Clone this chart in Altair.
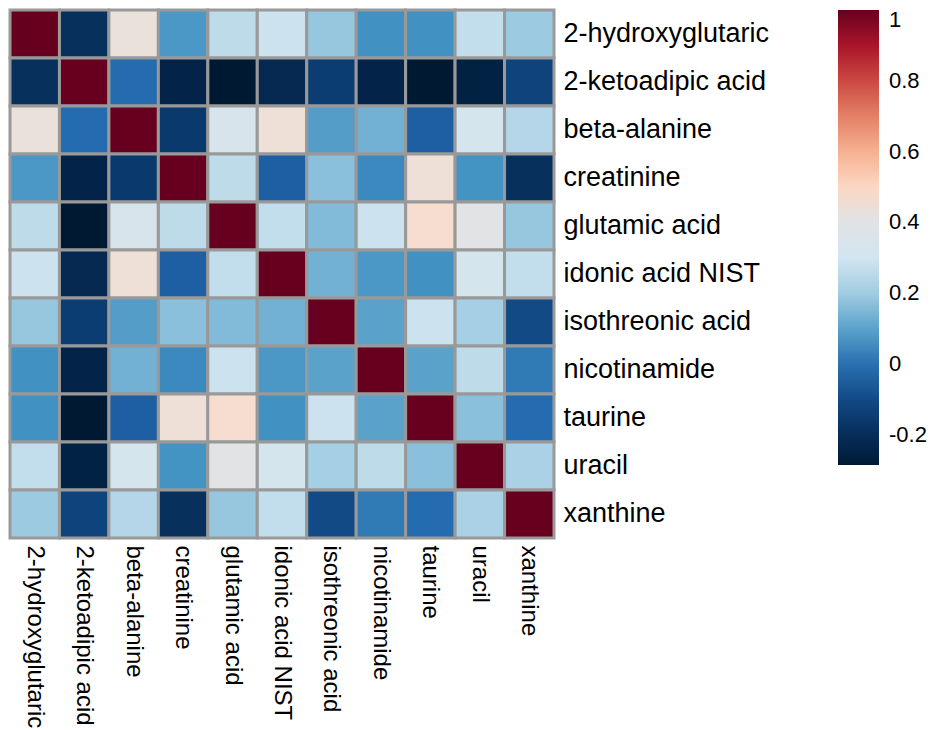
import altair as alt
import pandas as pd

metabolites = [
    "2-hydroxyglutaric", "2-ketoadipic acid", "beta-alanine", "creatinine",
    "glutamic acid", "idonic acid NIST", "isothreonic acid", "nicotinamide",
    "taurine", "uracil", "xanthine",
]

# correlation rows, top to bottom; columns left to right (same order)
r_hydroxyglutaric = [1.00, -0.19, 0.44, 0.08, 0.26, 0.29, 0.18, 0.065, 0.065, 0.27, 0.19]
r_ketoadipic      = [-0.19, 1.00, -0.01, -0.24, -0.29, -0.22, -0.14, -0.24, -0.29, -0.25, -0.12]
r_betaalanine     = [0.44, -0.01, 1.00, -0.15, 0.34, 0.45, 0.09, 0.13, -0.04, 0.32, 0.24]
r_creatinine      = [0.08, -0.24, -0.15, 1.00, 0.26, -0.04, 0.16, 0.05, 0.45, 0.07, -0.19]
r_glutamic        = [0.26, -0.29, 0.34, 0.26, 1.00, 0.27, 0.15, 0.29, 0.47, 0.41, 0.18]
r_idonic          = [0.29, -0.22, 0.45, -0.04, 0.27, 1.00, 0.13, 0.08, 0.065, 0.32, 0.27]
r_isothreonic     = [0.18, -0.14, 0.09, 0.16, 0.15, 0.13, 1.00, 0.10, 0.29, 0.21, -0.10]
r_nicotinamide    = [0.065, -0.24, 0.13, 0.05, 0.29, 0.08, 0.10, 1.00, 0.10, 0.26, 0.02]
r_taurine         = [0.065, -0.29, -0.04, 0.45, 0.47, 0.065, 0.29, 0.10, 1.00, 0.16, -0.01]
r_uracil          = [0.27, -0.25, 0.32, 0.07, 0.41, 0.32, 0.21, 0.26, 0.16, 1.00, 0.22]
r_xanthine        = [0.19, -0.12, 0.24, -0.19, 0.18, 0.27, -0.10, 0.02, -0.01, 0.22, 1.00]

rows = [r_hydroxyglutaric, r_ketoadipic, r_betaalanine, r_creatinine, r_glutamic,
        r_idonic, r_isothreonic, r_nicotinamide, r_taurine, r_uracil, r_xanthine]

legend_ticks = [-0.2, 0, 0.2, 0.4, 0.6, 0.8, 1]

stop_values = [-0.285, -0.145, -0.02, 0.07, 0.17, 0.30, 0.42, 0.49, 0.63, 0.76, 0.886, 1.0]
stop_colors = ["#001a35", "#0a3a70", "#2166ac", "#4393c3", "#92c5de", "#d1e5f0",
               "#e3e3e3", "#fddbc7", "#f4a582", "#d6604d", "#b2182b", "#67001f"]

records = []
for i, row_name in enumerate(metabolites):
    for j, col_name in enumerate(metabolites):
        records.append({"row": row_name, "col": col_name, "r": rows[i][j]})
df = pd.DataFrame(records)

FONT = "Liberation Sans"

chart = alt.Chart(df).mark_rect(stroke="#999999", strokeWidth=3).encode(
    x=alt.X("col:N", sort=metabolites, title=None,
            scale=alt.Scale(paddingInner=0, paddingOuter=0),
            axis=alt.Axis(orient="bottom", labelAngle=90, labelAlign="left",
                          labelBaseline="middle", labelFontSize=24, labelFont=FONT,
                          labelColor="black", labelPadding=7, ticks=False,
                          domain=False, labelLimit=300)),
    y=alt.Y("row:N", sort=metabolites, title=None,
            scale=alt.Scale(paddingInner=0, paddingOuter=0),
            axis=alt.Axis(orient="right", labelFontSize=27, labelFont=FONT,
                          labelColor="black", labelPadding=9, ticks=False,
                          domain=False, labelLimit=300)),
    color=alt.Color("r:Q", title=None,
                    scale=alt.Scale(domain=stop_values, range=stop_colors,
                                    interpolate="rgb"),
                    legend=alt.Legend(orient="none", legendX=828, legendY=0,
                                      direction="vertical", gradientLength=455,
                                      gradientThickness=41, gradientStrokeWidth=0,
                                      values=legend_ticks, labelFontSize=22,
                                      labelFont=FONT, labelColor="black",
                                      labelOffset=10, labelBaseline="middle",
                                      labelOverlap=False,
                                      labelExpr="toString(round(datum.value*10)/10)")),
).properties(
    width=544, height=528, padding=0
).configure_view(strokeWidth=0)

chart.save("out.html", embed_options={"renderer": "svg", "actions": False})
